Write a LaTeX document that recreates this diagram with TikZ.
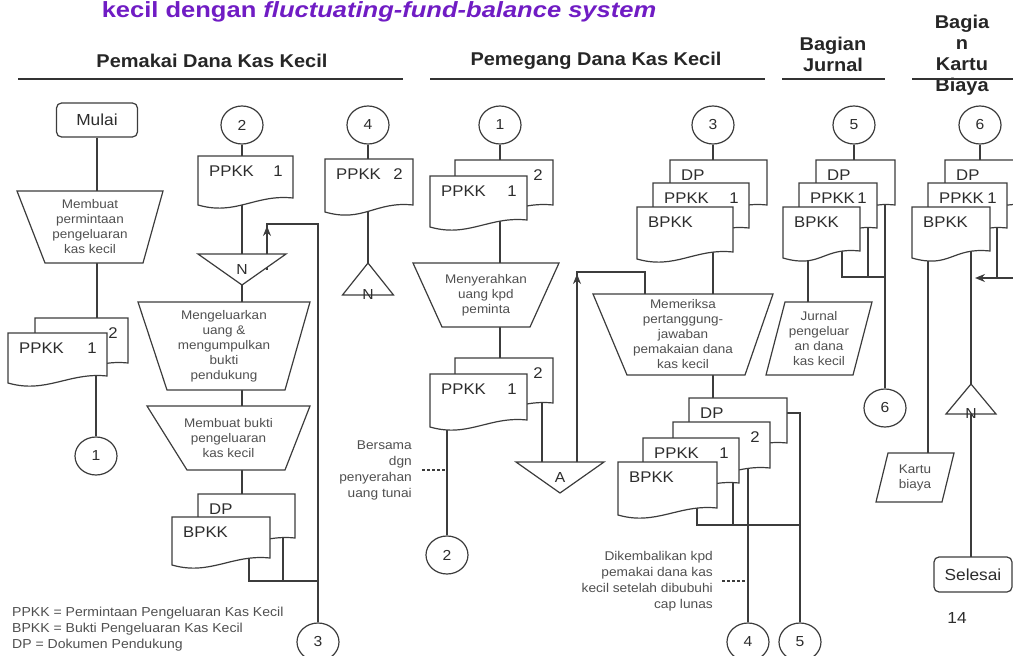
\documentclass[tikz,border=0pt]{standalone}
\usepackage{fontspec}
\setmainfont{Liberation Sans}[FakeStretch=1.08]
\newfontfamily\titlefont{Liberation Sans}[FakeStretch=1.16]
\usetikzlibrary{arrows.meta,shapes.geometric}

\definecolor{linegray}{RGB}{60,60,60}
\definecolor{textgray}{RGB}{45,45,45}
\definecolor{procgray}{RGB}{80,80,80}
\definecolor{titleviolet}{RGB}{112,28,196}

\pgfdeclarelayer{lines}
\pgfdeclarelayer{shapes}
\pgfsetlayers{lines,shapes,main}

\tikzset{
  flow/.style={draw=linegray, line width=1.2pt},
  flowarrow/.style={flow, -{Stealth[length=10pt,width=8pt]}},
  headline/.style={draw=black!80, line width=1.7pt},
  lanehead/.style={font=\bfseries\fontsize{18.5}{21}\selectfont, text=black!85, align=center},
  conn/.style={ellipse, draw=linegray, line width=1.2pt, fill=white, minimum width=42, minimum height=38, inner sep=0pt, text=textgray, font=\fontsize{14.5}{16}\selectfont},
  termbox/.style={draw=linegray, line width=1.2pt, rounded corners=5, fill=white, inner sep=0pt, text=textgray, font=\fontsize{16}{18}\selectfont},
  shapebox/.style={inner sep=0pt, outer sep=0pt},
  procbox/.style={shapebox, align=center, text=procgray, font=\fontsize{12.5}{15}\selectfont},
  tritext/.style={inner sep=0pt, text=textgray, font=\fontsize{14.5}{16}\selectfont},
  doclbl/.style={inner sep=0pt, text=textgray, font=\fontsize{15.5}{17}\selectfont},
  remark/.style={inner sep=0pt, align=right, text=procgray, font=\fontsize{12.7}{16}\selectfont},
}

% document with wavy bottom, left and right labels
\newcommand{\docu}[3]{%
  \begin{pgfonlayer}{shapes}
    \draw[flow, fill=white] (#1.south west) -- (#1.north west) -- (#1.north east) -- ([yshift=7]#1.south east)
      .. controls ([xshift=-38,yshift=11]#1.south east) and ([xshift=38,yshift=-11]#1.south west) .. (#1.south west) -- cycle;
  \end{pgfonlayer}
  \node (#1-l) [doclbl, anchor=base west] at ([xshift=11,yshift=-20]#1.north west) {#2};
  \node (#1-r) [doclbl, anchor=base east] at ([xshift=-10,yshift=-20]#1.north east) {#3};}
% manual operation
\newcommand{\manop}[3]{%
  \begin{pgfonlayer}{shapes}
    \draw[flow, fill=white] (#1.north west) -- (#1.north east) -- ([xshift=-#3]#1.south east) -- ([xshift=#2]#1.south west) -- cycle;
  \end{pgfonlayer}}
% input / output
\newcommand{\slanted}[2]{%
  \begin{pgfonlayer}{shapes}
    \draw[flow, fill=white] (#1.south west) -- ([xshift=#2]#1.north west) -- (#1.north east) -- ([xshift=-#2]#1.south east) -- cycle;
  \end{pgfonlayer}}
% offline files
\newcommand{\trifile}[1]{%
  \begin{pgfonlayer}{shapes}
    \draw[flow, fill=white] (#1.north west) -- (#1.north east) -- (#1.south) -- cycle;
  \end{pgfonlayer}}
\newcommand{\trifileup}[1]{%
  \begin{pgfonlayer}{shapes}
    \draw[flow, fill=white] (#1.south west) -- (#1.south east) -- (#1.north) -- cycle;
  \end{pgfonlayer}}

\begin{document}
\begin{tikzpicture}[x=1pt, y=-1pt]
\useasboundingbox (0,0) rectangle (1013,656);

% title and lanes
\node (title) [anchor=base, font=\titlefont\bfseries\fontsize{22}{24}\selectfont, text=titleviolet] at (379,17) {kecil dengan \textit{fluctuating-fund-balance system}};
\node (h1) [lanehead] at (212,61) {Pemakai Dana Kas Kecil};
\node (h2) [lanehead] at (596,61) {Pemegang Dana Kas Kecil};
\node (h3) [lanehead] at (833,54) {Bagian\\Jurnal};
\node (h4) [lanehead] at (962,55) {Bagia\\n\\Kartu\\Biaya};
\draw[headline] (18,79) -- (403,79);
\draw[headline] (430,79) -- (765,79);
\draw[headline] (782,79) -- (885,79);
\draw[headline] (912,79) -- (1013,79);

% Pemakai dana kas kecil
\node (mulai) [termbox, minimum width=81, minimum height=34] at (97,120) {Mulai};
\node (m1) [procbox, minimum width=146, minimum height=72] at (90,227) {Membuat\\permintaan\\pengeluaran\\kas kecil};
\manop{m1}{28}{20}
\node (d1b) [shapebox, minimum width=93, minimum height=52] at (81.5,344) {};
\docu{d1b}{}{2}
\node (d1f) [shapebox, minimum width=99, minimum height=50] at (57.5,358) {};
\docu{d1f}{PPKK}{1}
\node (c1) [conn] at (96,456) {1};

\node (c2) [conn] at (242,125) {2};
\node (d2) [shapebox, minimum width=95, minimum height=49] at (245.5,180.5) {};
\docu{d2}{PPKK}{1}
\node (t2) [shapebox, tritext, minimum width=88, minimum height=31] at (242,269.5) {N};
\trifile{t2}
\node (m2) [procbox, minimum width=172, minimum height=88] at (224,346) {Mengeluarkan\\uang \&\\mengumpulkan\\bukti\\pendukung};
\manop{m2}{29}{25}
\node (m3) [procbox, minimum width=163, minimum height=64] at (228.5,438) {Membuat bukti\\pengeluaran\\kas kecil};
\manop{m3}{40}{25}
\node (dp2) [shapebox, minimum width=97, minimum height=51] at (246.5,519.5) {};
\docu{dp2}{DP}{}
\node (bp2) [shapebox, minimum width=98, minimum height=48] at (221,541) {};
\docu{bp2}{BPKK}{}
\node (c3) [conn] at (318,642) {3};

\node (c4) [conn] at (368,125) {4};
\node (d4) [shapebox, minimum width=88, minimum height=53] at (369,185.5) {};
\docu{d4}{PPKK}{2}
\node (t4) [shapebox, minimum width=51, minimum height=32] at (368,279) {};
\trifileup{t4}
\node (t4n) [tritext] at (t4.south) {N};

% Pemegang dana kas kecil
\node (c5) [conn] at (500,125) {1};
\node (d5b) [shapebox, minimum width=98, minimum height=52] at (504,186) {};
\docu{d5b}{}{2}
\node (d5f) [shapebox, minimum width=97, minimum height=51] at (478.5,201.5) {};
\docu{d5f}{PPKK}{1}
\node (m4) [procbox, minimum width=146, minimum height=64] at (486,295) {Menyerahkan\\uang kpd\\peminta};
\manop{m4}{29}{29}
\node (d6b) [shapebox, minimum width=98, minimum height=52] at (504,384) {};
\docu{d6b}{}{2}
\node (d6f) [shapebox, minimum width=97, minimum height=53] at (478.5,400.5) {};
\docu{d6f}{PPKK}{1}
\node (tA) [shapebox, tritext, minimum width=88, minimum height=31] at (560,477.5) {A};
\trifile{tA}
\node (c6) [conn] at (447,555) {2};
\node (nb) [remark, anchor=east] at (412,470) {Bersama\\dgn\\penyerahan\\uang tunai};

\node (c7) [conn] at (713,125) {3};
\node (d7a) [shapebox, minimum width=97, minimum height=52] at (718.5,186) {};
\docu{d7a}{DP}{}
\node (d7b) [shapebox, minimum width=96, minimum height=52] at (701,209) {};
\docu{d7b}{PPKK}{1}
\node (d7c) [shapebox, minimum width=96, minimum height=52] at (685,233) {};
\docu{d7c}{BPKK}{}
\node (m5) [procbox, minimum width=180, minimum height=81] at (683,334.5) {Memeriksa\\pertanggung-\\jawaban\\pemakaian dana\\kas kecil};
\manop{m5}{34}{28}
\node (d8a) [shapebox, minimum width=98, minimum height=52] at (738,424) {};
\docu{d8a}{DP}{}
\node (d8b) [shapebox, minimum width=97, minimum height=53] at (721.5,448.5) {};
\docu{d8b}{}{2}
\node (d8c) [shapebox, minimum width=96, minimum height=52] at (691,464) {};
\docu{d8c}{PPKK}{1}
\node (d8d) [shapebox, minimum width=99, minimum height=53] at (667.5,488.5) {};
\docu{d8d}{BPKK}{}
\node (c8) [conn] at (748,642) {4};
\node (c9) [conn] at (800,642) {5};
\node (nd) [remark, anchor=east] at (713,581) {Dikembalikan kpd\\pemakai dana kas\\kecil setelah dibubuhi\\cap lunas};

% Bagian jurnal
\node (c10) [conn] at (854,125) {5};
\node (d10a) [shapebox, minimum width=79, minimum height=52] at (855.5,186) {};
\docu{d10a}{DP}{}
\node (d10b) [shapebox, minimum width=78, minimum height=52] at (838,209) {};
\docu{d10b}{PPKK}{1}
\node (d10c) [shapebox, minimum width=77, minimum height=51] at (821.5,232.5) {};
\docu{d10c}{BPKK}{}
\node (jur) [procbox, minimum width=106, minimum height=73] at (819,338.5) {Jurnal\\pengeluar\\an dana\\kas kecil};
\slanted{jur}{19}
\node (c11) [conn] at (885,408) {6};

% Bagian kartu biaya
\node (c12) [conn] at (980,125) {6};
\node (d12a) [shapebox, minimum width=80, minimum height=52] at (985,186) {};
\docu{d12a}{DP}{}
\node (d12b) [shapebox, minimum width=79, minimum height=52] at (967.5,209) {};
\docu{d12b}{PPKK}{1}
\node (d12c) [shapebox, minimum width=78, minimum height=51] at (951,232.5) {};
\docu{d12c}{BPKK}{}
\node (t12) [shapebox, minimum width=50, minimum height=30] at (971,399) {};
\trifileup{t12}
\node (t12n) [tritext] at (t12.south) {N};
\node (kartu) [procbox, minimum width=78, minimum height=49] at (915,477.5) {Kartu\\biaya};
\slanted{kartu}{12}
\node (selesai) [termbox, minimum width=78, minimum height=35] at (973,574.5) {Selesai};
\node (page) [font=\fontsize{16}{18}\selectfont, text=textgray] at (957,618) {14};

\node (legend) [anchor=west, align=left, inner sep=0pt, font=\fontsize{13}{16}\selectfont, text=procgray] at (12,629) {PPKK = Permintaan Pengeluaran Kas Kecil\\BPKK = Bukti Pengeluaran Kas Kecil\\DP = Dokumen Pendukung};

% connectors
\coordinate (a2) at (267,224);
\coordinate (j2) at (318,581);
\coordinate (aA) at (577,272);
\coordinate (j5) at (800,525);
\coordinate (j6) at (885,277);
\coordinate (k1) at (975,278);
\begin{pgfonlayer}{lines}
\draw[flow] (mulai) -- (mulai |- d1b.center);
\draw[flow] (c1 |- d1f.center) -- (c1);
\draw[flow] (c2) -- (c2 |- dp2.center);
\draw[flow] (c3) |- (a2) -- (a2 |- t2.center);
\draw[flow] ([xshift=28]bp2.center) |- (j2);
\draw[flow] ([xshift=36.5]dp2.center) -- ([xshift=36.5]dp2.center |- j2);
\draw[flow] (c4) -- (c4 |- t4.center);
\draw[flow] (c5) -- (c5 |- d6b.center);
\draw[flow] ([xshift=38]d6b.center) -- ([xshift=38]d6b.center |- tA.center);
\draw[flow] ([xshift=-38]m5.center) |- (aA) -- (aA |- tA.center);
\draw[flow] (c6 |- d6f.center) -- (c6);
\draw[flow] (c7) -- (c7 |- d8a.center);
\draw[flow] ([xshift=29.5]d8d.center) |- (j5);
\draw[flow] ([xshift=42]d8c.center) -- ([xshift=42]d8c.center |- j5);
\draw[flow] (c8 |- d8b.center) -- (c8);
\draw[flow] ([yshift=11]d8a.center) -| (c9);
\draw[flow] (c10) -- (c10 |- d10a.center);
\draw[flow] ([xshift=20.5]d10c.center) |- (j6);
\draw[flow] ([xshift=30]d10b.center) -- ([xshift=30]d10b.center |- j6);
\draw[flow] (c11 |- d10a.center) -- (c11);
\draw[flow] ([xshift=-13.5]d10c.center) -- ([xshift=-13.5]d10c.center |- jur.center);
\draw[flow] (c12) -- (c12 |- d12a.center);
\draw[flow] (t12 |- d12c.center) -- (t12.center);
\draw[flow] ([xshift=-23]d12c.center) -- ([xshift=-23]d12c.center |- kartu.center);
\draw[flow] ([xshift=29.5]d12b.center) -- ([xshift=29.5]d12b.center |- k1);
\draw[flowarrow] ([xshift=45]d12a.center) |- (k1);
\draw[flow] (t12.center |- selesai.center) -- (t12.center);
\end{pgfonlayer}
\draw[flowarrow] (a2 |- t2.north) -- ([yshift=-2]a2);
\draw[flowarrow] (aA |- tA.north) -- ([yshift=-2]aA);
\draw[flow, dash pattern=on 3pt off 2pt] ([xshift=10]nb.east) -- (nb.east -| c6);
\draw[flow, dash pattern=on 3pt off 2pt] ([xshift=9]nd.east) -- (nd.east -| c8);
\end{tikzpicture}
\end{document}
